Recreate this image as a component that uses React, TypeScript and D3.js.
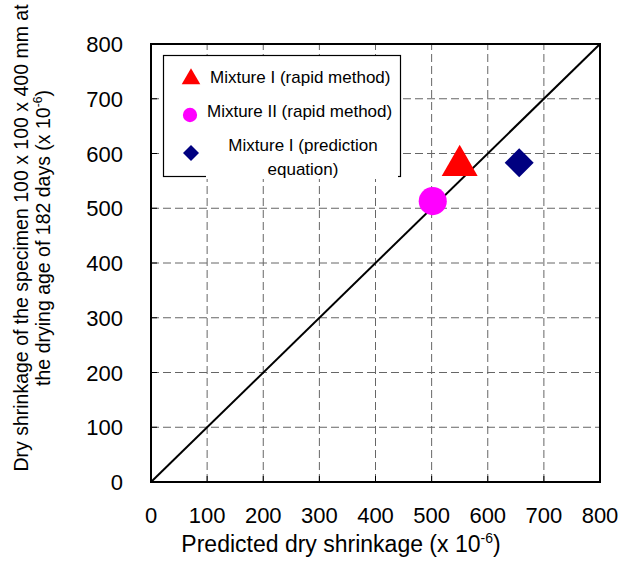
import * as d3 from "d3";

// data
const seriesNames = ["Mixture I (rapid method)", "Mixture II (rapid method)", "Mixture I (prediction equation)"];
const predicted = [550, 502, 656];
const measured = [578, 513, 583];
const symbols = ["triangle", "circle", "diamond"];
const colors = ["#ff0000", "#ff00ff", "#000080"];
const ticks = [0, 100, 200, 300, 400, 500, 600, 700, 800];
const lineOfEquality = [0, 800];

const W = 621, H = 565;
const margin = {top: 44, right: 21, bottom: 83, left: 151};

const App = () => {
    const x = d3.scaleLinear().domain([0, 800]).range([margin.left, W - margin.right]);
    const y = d3.scaleLinear().domain([0, 800]).range([H - margin.bottom, margin.top]);
    const font = "'Liberation Sans', Arial, sans-serif";

    const symPath = (s: string, size: number) => {
        const t = s === "triangle" ? d3.symbolTriangle : s === "circle" ? d3.symbolCircle : d3.symbolSquare;
        return d3.symbol().type(t).size(size)()!;
    };
    const rot = (s: string) => (s === "diamond" ? " rotate(45)" : "");

    const line = d3.line<number>().x(d => x(d)).y(d => y(d));

    return (
        <svg width={W} height={H} style={{position: "absolute", left: 0, top: 0}} fontFamily={font}>
            <rect width={W} height={H} fill="#fff"/>
            {/* grid */}
            {ticks.slice(1, -1).map(t => (
                <g key={"g" + t}>
                    <line x1={x(t)} x2={x(t)} y1={y(0)} y2={y(800)} stroke="#666" strokeDasharray="8,4"/>
                    <line x1={x(0)} x2={x(800)} y1={y(t)} y2={y(t)} stroke="#666" strokeDasharray="8,4"/>
                </g>
            ))}
            {/* inward ticks */}
            {ticks.map(t => (
                <g key={"t" + t}>
                    <line x1={x(t)} x2={x(t)} y1={y(0)} y2={y(0) - 6} stroke="#000"/>
                    <line x1={x(0)} x2={x(0) + 6} y1={y(t)} y2={y(t)} stroke="#000"/>
                    <text x={x(t)} y={y(0) + 41} fontSize={22} textAnchor="middle">{t}</text>
                    <text x={123} y={y(t) + 8} fontSize={22} textAnchor="end">{t}</text>
                </g>
            ))}
            {/* 1:1 line */}
            <path d={line(lineOfEquality)!} stroke="#000" strokeWidth={2} fill="none"/>
            {/* points */}
            {seriesNames.map((n, i) => (
                <path key={n} transform={`translate(${x(predicted[i])},${y(measured[i])})` + rot(symbols[i])}
                      d={symPath(symbols[i], symbols[i] === "circle" ? 620 : symbols[i] === "triangle" ? 560 : 420)}
                      fill={colors[i]}/>
            ))}
            {/* frame */}
            <rect x={x(0)} y={y(800)} width={x(800) - x(0)} height={y(0) - y(800)} fill="none" stroke="#000" strokeWidth={2}/>
            {/* legend */}
            <g>
                <rect x={163.5} y={55.5} width={237} height={121} fill="#fff" stroke="#000" strokeWidth={1.2}/>
                <rect x={206} y={158} width={192} height={21} fill="#fff"/>
                <path transform="translate(191,79)" d={symPath("triangle", 150)} fill={colors[0]}/>
                <text x={210} y={83} fontSize={17}>{seriesNames[0]}</text>
                <path transform="translate(190,115)" d={symPath("circle", 160)} fill={colors[1]}/>
                <text x={207} y={117} fontSize={17}>{seriesNames[1]}</text>
                <path transform="translate(191,153) rotate(45)" d={symPath("diamond", 128)} fill={colors[2]}/>
                <text x={303} y={151} fontSize={17} textAnchor="middle">Mixture I (prediction</text>
                <text x={303} y={175} fontSize={17} textAnchor="middle">equation)</text>
            </g>
            {/* axis titles */}
            <text x={341} y={552} fontSize={23} textAnchor="middle">
                Predicted dry shrinkage (x 10<tspan dy={-9} fontSize={14}>-6</tspan><tspan dy={9}>)</tspan>
            </text>
            <g transform="translate(28,238) rotate(-90)">
                <text x={0} y={0} fontSize={19.5} textAnchor="middle">Dry shrinkage of the specimen 100 x 100 x 400 mm at</text>
                <text x={0} y={22} fontSize={19.5} textAnchor="middle">
                    the drying age of 182 days (x 10<tspan dy={-8} fontSize={12}>-6</tspan><tspan dy={8}>)</tspan>
                </text>
            </g>
        </svg>
    );
};

export default App;
